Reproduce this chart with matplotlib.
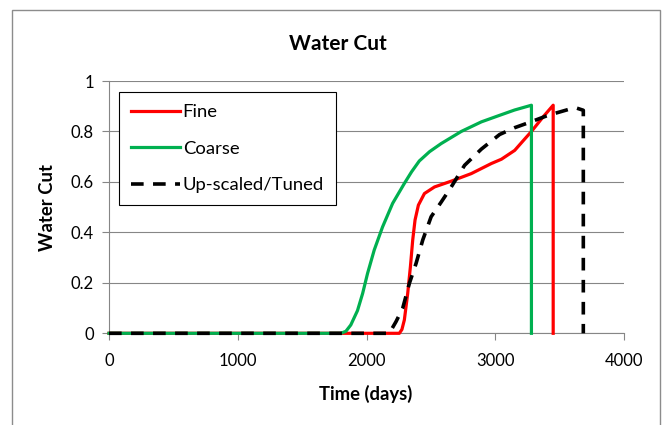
import matplotlib
matplotlib.use("Agg")
import matplotlib.pyplot as plt
from matplotlib.patches import Rectangle

plt.rcParams['font.family'] = ['Lato', 'DejaVu Sans']

# Data
fine_days = [0, 2255, 2275, 2294, 2320, 2341, 2359, 2377, 2403, 2450, 2528, 2658, 2814, 2970, 3048, 3151, 3220, 3281, 3372, 3450, 3450]
fine_wc = [0, 0, 0.015, 0.053, 0.158, 0.264, 0.37, 0.449, 0.508, 0.554, 0.58, 0.603, 0.633, 0.673, 0.69, 0.725, 0.765, 0.80, 0.858, 0.904, 0]

coarse_days = [0, 1800, 1840, 1878, 1930, 1970, 2008, 2060, 2125, 2203, 2294, 2350, 2410, 2490, 2580, 2736, 2892, 3034, 3150, 3281, 3281]
coarse_wc = [0, 0, 0.008, 0.033, 0.09, 0.158, 0.237, 0.33, 0.422, 0.515, 0.594, 0.64, 0.683, 0.72, 0.752, 0.80, 0.838, 0.864, 0.885, 0.904, 0]

tuned_days = [0, 2177, 2229, 2281, 2333, 2385, 2437, 2502, 2580, 2658, 2762, 2892, 3034, 3151, 3255, 3411, 3567, 3630, 3684, 3684]
tuned_wc = [0, 0, 0.046, 0.099, 0.198, 0.277, 0.37, 0.462, 0.52, 0.58, 0.666, 0.73, 0.788, 0.815, 0.834, 0.864, 0.887, 0.893, 0.884, 0]

x_ticks = [0, 1000, 2000, 3000, 4000]
y_ticks = [0, 0.2, 0.4, 0.6, 0.8, 1.0]
y_ticklabels = ['0', '0.2', '0.4', '0.6', '0.8', '1']

W, H = 670, 425
fig = plt.figure(figsize=(6.7, 4.25), dpi=100)
ax = fig.add_axes([109/W, 1 - 333.3/H, 515/W, 252.3/H])

grey = '#868686'
ax.plot(fine_days, fine_wc, color='#FF0000', lw=2.3, label='Fine', zorder=3,
        solid_joinstyle='round', clip_on=False)
ax.plot(coarse_days, coarse_wc, color='#00B050', lw=2.3, label='Coarse', zorder=4,
        solid_joinstyle='round', clip_on=False)
ax.plot(tuned_days, tuned_wc, color='black', lw=2.6, dashes=(3.5, 2.6), label='Up-scaled/Tuned',
        zorder=5, clip_on=False)

ax.set_xlim(0, 4000)
ax.set_ylim(0, 1)
ax.set_xticks(x_ticks)
ax.set_yticks(y_ticks)
ax.set_yticklabels(y_ticklabels)
ax.grid(axis='y', color=grey, lw=0.8)
ax.set_axisbelow(True)
for s in ['top', 'right']:
    ax.spines[s].set_visible(False)
for s in ['left', 'bottom']:
    ax.spines[s].set_color(grey)
    ax.spines[s].set_linewidth(0.8)
ax.tick_params(axis='both', colors=grey, length=5, width=0.8, labelsize=12, labelcolor='black')
ax.tick_params(axis='x', pad=9)
ax.tick_params(axis='y', pad=6)

fig.text(338/W, 1 - 50/H, 'Water Cut', fontsize=15, fontweight='bold', ha='center', va='baseline')
fig.text(366/W, 1 - 400/H, 'Time (days)', fontsize=13.3, fontweight='bold', ha='center', va='baseline')
fig.text(47.5/W, 1 - 207.5/H, 'Water Cut', fontsize=13.3, fontweight='bold', ha='center', va='center',
         rotation=90)

leg = ax.legend(loc='upper left', bbox_to_anchor=(10/515, (333.3 - 92)/252.3), fontsize=13.3,
                handlelength=2.65, handletextpad=0.15, labelspacing=1.12,
                borderpad=0.65, borderaxespad=0, fancybox=False, framealpha=1)
leg.get_frame().set_edgecolor('black')
leg.get_frame().set_linewidth(0.8)
leg.set_zorder(6)

fig.patches.append(Rectangle((12/W, -0.1), 648/W, 1.1 - 10/H, transform=fig.transFigure,
                             fill=False, edgecolor='#8c8c8c', lw=1.0))

fig.savefig('out.png', dpi=100)
